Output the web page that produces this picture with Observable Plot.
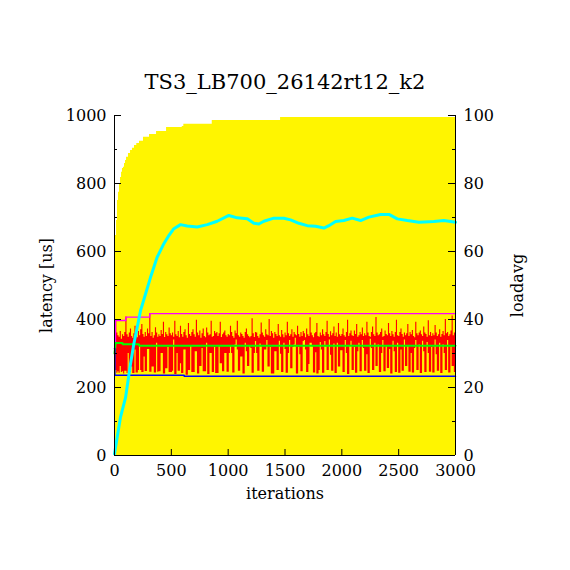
<!DOCTYPE html>
<html>
<head>
<meta charset="utf-8">
<script src="https://cdn.jsdelivr.net/npm/d3@7"></script>
<script src="https://cdn.jsdelivr.net/npm/@observablehq/plot@0.6"></script>
<style>
  html, body { margin: 0; padding: 0; background: white; }
</style>
</head>
<body>
<div id="chart"></div>
<script>
// ---------- data ----------
const title = "TS3_LB700_26142rt12_k2";
const xLabel = "iterations";
const yLabel = "latency [us]";
const y2Label = "loadavg";

const xTicks = [0, 500, 1000, 1500, 2000, 2500, 3000];
const yTicks = [0, 200, 400, 600, 800, 1000];
const yMinorTicks = [100, 300, 500, 700, 900];
const loadTicks = [0, 20, 40, 60, 80, 100];

// yellow filled curve (max latency envelope), step levels
const envIter  = [0, 9, 18, 26, 35, 44, 53, 62, 70, 79, 88, 97, 106, 123, 141, 158, 176, 196, 220, 255, 308, 370, 458, 596, 610, 860, 1461, 3000];
const envValue = [400, 647, 691, 750, 774, 800, 818, 833, 844, 848, 859, 868, 877, 888, 897, 904, 912, 918, 924, 936, 944, 953, 965, 968, 974, 985, 994, 994];

// latency, per block of 10 iterations: highest sample in the block
const latHigh = [
  330, 397, 360, 352, 348, 365, 342, 355, 350, 362,
  407, 355, 348, 360, 372, 350, 345, 358, 380, 352,
  346, 365, 352, 370, 385, 356, 348, 362, 350, 372,
  358, 417, 350, 362, 345, 352, 376, 360, 348, 355,
  350, 368, 356, 392, 347, 362, 355, 350, 375, 358,
  352, 360, 348, 395, 355, 350, 365, 346, 380, 356,
  348, 362, 370, 352, 345, 388, 356, 350, 362, 370,
  355, 348, 398, 360, 352, 366, 345, 358, 372, 350,
  346, 375, 360, 352, 355, 395, 348, 350, 365, 358,
  362, 350, 358, 392, 347, 355, 360, 366, 352, 348,
  356, 352, 380, 362, 350, 345, 366, 358, 395, 352,
  348, 360, 356, 350, 345, 362, 372, 355, 350, 346,
  350, 402, 358, 347, 362, 360, 350, 345, 355, 390,
  360, 352, 348, 370, 355, 352, 400, 350, 365, 358,
  345, 362, 356, 350, 385, 352, 348, 368, 355, 346,
  360, 352, 392, 358, 350, 355, 370, 348, 362, 355,
  352, 380, 356, 348, 362, 350, 365, 358, 346, 372,
  355, 350, 405, 360, 352, 346, 358, 362, 388, 350,
  348, 360, 352, 370, 355, 350, 362, 395, 356, 348,
  364, 352, 358, 378, 350, 360, 348, 388, 355, 350,
  356, 372, 352, 348, 362, 398, 350, 358, 366, 352,
  350, 366, 356, 385, 348, 352, 362, 355, 375, 350,
  358, 352, 392, 360, 350, 348, 362, 378, 355, 350,
  406, 360, 352, 355, 362, 372, 348, 350, 366, 356,
  352, 388, 358, 350, 365, 355, 348, 362, 398, 352,
  350, 362, 372, 356, 348, 360, 352, 358, 385, 350,
  362, 355, 368, 350, 346, 392, 358, 352, 360, 366,
  355, 350, 378, 360, 356, 348, 396, 352, 362, 350,
  358, 352, 382, 360, 350, 355, 370, 348, 356, 365,
  352, 400, 358, 362, 350, 355, 366, 410, 352, 360
];
// latency, per block of 10 iterations: lowest sample in the block
const latLow = [
  315, 250, 242, 246, 242, 262, 244, 246, 240, 248,
  248, 241, 300, 244, 244, 260, 241, 241, 310, 243,
  243, 250, 320, 250, 244, 244, 290, 247, 247, 312,
  312, 245, 245, 260, 260, 243, 243, 330, 245, 246,
  246, 300, 300, 240, 240, 255, 255, 318, 244, 244,
  244, 248, 340, 238, 238, 300, 248, 248, 270, 241,
  241, 310, 310, 236, 236, 250, 250, 322, 244, 244,
  244, 305, 305, 240, 240, 262, 262, 315, 246, 246,
  246, 330, 238, 238, 300, 300, 244, 244, 318, 241,
  241, 241, 320, 270, 270, 246, 246, 300, 300, 245,
  245, 300, 320, 300, 243, 243, 325, 340, 310, 248,
  248, 290, 290, 240, 240, 330, 305, 262, 262, 320,
  315, 242, 242, 300, 335, 300, 248, 248, 328, 320,
  245, 245, 310, 310, 338, 260, 260, 318, 240, 240,
  240, 305, 305, 250, 250, 336, 298, 244, 244, 330,
  312, 242, 242, 300, 338, 255, 255, 318, 325, 345,
  240, 240, 318, 296, 246, 246, 335, 338, 310, 244,
  244, 268, 330, 330, 320, 243, 243, 302, 240, 240,
  250, 332, 310, 242, 242, 335, 320, 250, 250, 340,
  295, 248, 248, 328, 241, 241, 330, 260, 260, 308,
  308, 244, 244, 338, 300, 238, 238, 322, 336, 250,
  250, 318, 242, 242, 305, 330, 246, 246, 338, 315,
  248, 248, 296, 241, 241, 342, 315, 250, 250, 330,
  262, 262, 325, 244, 244, 300, 338, 246, 246, 320,
  256, 256, 312, 240, 240, 336, 305, 244, 244, 330,
  242, 242, 310, 248, 248, 340, 262, 262, 320, 245,
  245, 300, 243, 243, 315, 338, 250, 250, 325, 241,
  241, 336, 305, 244, 244, 332, 300, 245, 245, 318,
  243, 243, 340, 296, 248, 248, 330, 241, 241, 325,
  300, 250, 250, 338, 243, 243, 320, 262, 262, 244
];
const latBlock = 10;

// running maximum (magenta)
const maxIter  = [0, 9, 100, 310, 3000];
const maxValue = [315, 397, 407, 417, 417];

// running average (green)
const avgIter  = [0, 9, 70, 72, 215, 218, 3000];
const avgValue = [300, 331, 331, 327, 327, 323, 323];

// running minimum (blue)
const minIter  = [0, 3, 613, 3000];
const minValue = [315, 236, 233, 233];

// loadavg (cyan), right axis 0..100
const loadIter  = [0, 53, 97, 141, 170, 200, 229, 273, 317, 375, 434, 478, 522, 581, 640, 728, 816, 904, 1006, 1080, 1168, 1226, 1270, 1314, 1402, 1490, 1549, 1622, 1696, 1769, 1842, 1886, 1945, 2018, 2091, 2165, 2238, 2341, 2414, 2488, 2576, 2678, 2810, 2898, 3000];
const loadValue = [0.5, 11.3, 17, 27, 32.8, 37.7, 42.6, 47.5, 52.4, 58.3, 62.3, 64.7, 66.7, 67.9, 67.5, 67.2, 67.9, 68.9, 70.6, 69.9, 69.6, 68.3, 68.1, 68.9, 69.8, 69.8, 69.3, 68.3, 67.6, 67.4, 66.9, 67.6, 68.8, 69.1, 69.8, 69.1, 70.1, 70.9, 70.9, 69.6, 69.1, 68.6, 68.8, 69.1, 68.6];

// ---------- tables ----------
const zip = (xs, ys) => xs.map((x, i) => ({x, y: ys[i]}));
const envData = zip(envIter, envValue);
const latBlocks = latHigh.map((hi, i) => ({x: i * latBlock, lo: latLow[i], hi}));
latBlocks.push({x: latHigh.length * latBlock, lo: latLow[latLow.length - 1], hi: latHigh[latHigh.length - 1]});
const maxData = zip(maxIter, maxValue);
const avgData = zip(avgIter, avgValue);
const minData = zip(minIter, minValue);
const loadData = zip(loadIter, loadValue);

// ---------- layout ----------
const W = 570, H = 570;
const mL = 114, mR = 115, mT = 115, mB = 115;
const frameW = W - mL - mR, frameH = H - mT - mB;
const font = "DejaVu Serif";
const loadScale = 10; // loadavg 0..100 shares the 0..1000 y scale

const chart = Plot.plot({
  width: W,
  height: H,
  marginLeft: mL,
  marginRight: mR,
  marginTop: mT,
  marginBottom: mB,
  style: {fontFamily: font, fontSize: "16px", background: "white", color: "black"},
  x: {domain: [0, 3000], axis: null},
  y: {domain: [0, 1000], axis: null},
  marks: [
    Plot.areaY(envData, {x: "x", y: "y", curve: "step-after", fill: "#fff500"}),
    Plot.areaY(latBlocks, {x: "x", y1: "lo", y2: "hi", curve: "step-after", fill: "#ff0000"}),
    Plot.line(maxData, {x: "x", y: "y", curve: "step-after", stroke: "#ff00ff", strokeWidth: 1.3}),
    Plot.line(avgData, {x: "x", y: "y", stroke: "#00ff00", strokeWidth: 2}),
    Plot.line(minData, {x: "x", y: "y", curve: "step-after", stroke: "#0000ff", strokeWidth: 1.5}),
    Plot.line(loadData, {x: "x", y: d => d.y * loadScale, stroke: "#00ffff", strokeWidth: 3}),
    // border: left, right, bottom
    Plot.ruleX([0, 3000], {stroke: "black", strokeWidth: 1}),
    Plot.ruleY([0], {stroke: "black", strokeWidth: 1}),
    // inward ticks
    Plot.tickY(yTicks, {y: d => d, insetRight: frameW - 7, stroke: "black"}),
    Plot.tickY(yMinorTicks, {y: d => d, insetRight: frameW - 3, stroke: "black"}),
    Plot.tickY(loadTicks, {y: d => d * loadScale, insetLeft: frameW - 7, stroke: "black"}),
    Plot.tickY(yMinorTicks, {y: d => d, insetLeft: frameW - 3, stroke: "black"}),
    Plot.tickX(xTicks, {x: d => d, insetTop: frameH - 6, stroke: "black"}),
    // tick labels
    Plot.axisY(yTicks, {anchor: "left", tickSize: 0, tickPadding: 8, fontSize: 16, tickFormat: d => String(d), label: null}),
    Plot.axisY(loadTicks.map(t => t * loadScale), {anchor: "right", tickSize: 0, tickPadding: 8, fontSize: 16, tickFormat: d => String(d / loadScale), label: null}),
    Plot.axisX(xTicks, {anchor: "bottom", tickSize: 0, tickPadding: 9, fontSize: 16, tickFormat: d => String(d), label: null}),
    // labels & title
    Plot.text([yLabel], {text: d => d, frameAnchor: "left", dx: -68, rotate: -90, textAnchor: "middle", lineAnchor: "middle", fontSize: 16}),
    Plot.text([y2Label], {text: d => d, frameAnchor: "right", dx: 62, rotate: -90, textAnchor: "middle", lineAnchor: "middle", fontSize: 16}),
    Plot.text([xLabel], {text: d => d, frameAnchor: "bottom", dy: 38, lineAnchor: "middle", fontSize: 16}),
    Plot.text([title], {text: d => d, frameAnchor: "top", dy: -33, lineAnchor: "middle", fontSize: 21})
  ]
});
document.getElementById("chart").appendChild(chart);
</script>
</body>
</html>
